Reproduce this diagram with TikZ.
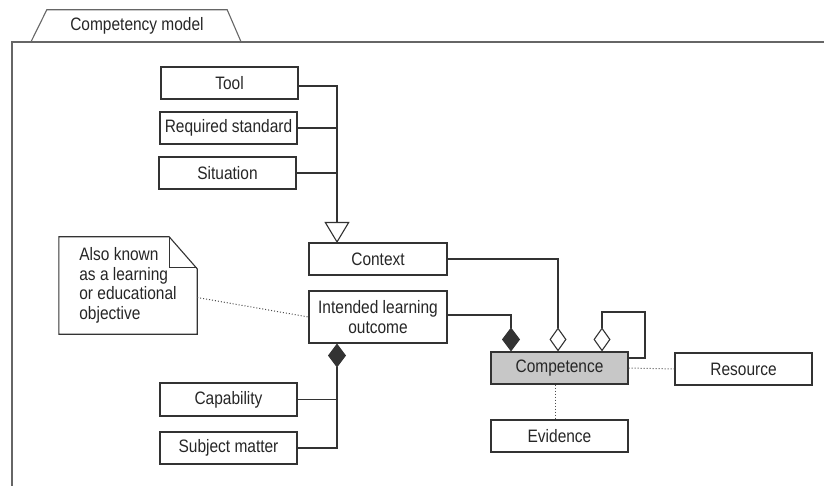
\documentclass[tikz,border=0pt]{standalone}
\usepackage{fontspec}
\setmainfont{Liberation Sans}[FakeStretch=0.86]
\usetikzlibrary{arrows.meta}

\begin{document}
\begin{tikzpicture}[x=1pt,y=-1pt,
    every node/.style={font=\fontsize{18}{19.5}\selectfont,text=black!85},
    box/.style={draw=black!80,line width=1.1pt,minimum width=137pt,minimum height=32pt,inner sep=0pt},
    link/.style={draw=black!80,line width=1.1pt},
    note link/.style={draw=black!70,line width=1pt,dotted},
    opendia/.style={-{Diamond[open,width=17pt,length=24pt,line width=1.1pt]}},
    fulldia/.style={-{Diamond[width=18pt,length=24pt]}}]
    \useasboundingbox (0,0) rectangle (824,486);
    \node[minimum width=180pt,minimum height=32pt,inner sep=0pt] (tab) at (137,26) {Competency model};
    \draw[black!60,line width=1.1pt] ([xshift=-16pt]tab.south west) -- (tab.north west) -- (tab.north east) -- ([xshift=14pt]tab.south east);
    \draw[black!60,line width=1.1pt] (824,42) -- (12,42) -- (12,486);
    \node[box] (tool) at (229.5,83) {Tool};
    \node[box] (req) at (228.5,128) {Required standard};
    \node[box] (sit) at (227.5,173) {Situation};
    \node[box,minimum width=138pt] (ctx) at (378,259) {Context};
    \node[box,minimum width=138pt,minimum height=52pt,align=center] (ilo) at (378,317) {Intended learning\\outcome};
    \node[box,minimum height=33pt] (cap) at (228.5,399.5) {Capability};
    \node[box] (subj) at (228.5,448) {Subject matter};
    \node[box,fill=black!22] (comp) at (559.5,368) {Competence};
    \node[box] (res) at (743.5,369) {Resource};
    \node[box] (evid) at (559.5,436) {Evidence};
    \node[minimum width=138pt,minimum height=97pt,inner sep=0pt,align=left] (note) at (128,285.5) {Also known\\as a learning\\or educational\\objective};
    \draw[link] (note.north west) -- ([xshift=-28pt]note.north east) -- ([yshift=-32pt]note.north east) -- (note.south east) -- (note.south west) -- cycle;
    \draw[link] ([xshift=-28pt]note.north east) -- ([xshift=-28pt,yshift=-31pt]note.north east) -- ([yshift=-31pt]note.north east);
    \coordinate (gen) at (337,243);
    \draw[link,-{Triangle[open,width=25pt,length=21pt,line width=1.1pt]}] (tool.east |- 0,86) -| (gen);
    \draw[link] (req.east) -- (req.east -| gen);
    \draw[link] (sit.east) -- (sit.east -| gen);
    \draw[link,fulldia] (subj.east) -| (ilo.south -| gen);
    \draw[link] (cap.east) -- (cap.east -| gen);
    \draw[link,opendia] (ctx.east) -| ([xshift=-1.5pt]comp.north);
    \draw[link,fulldia] ([yshift=2pt]ilo.east) -| ([xshift=-48.5pt]comp.north);
    \draw[link,{Diamond[open,width=17pt,length=24pt,line width=1.1pt]}-] ([xshift=42.5pt]comp.north) |- (645,312) |- ([yshift=10pt]comp.east);
    \draw[note link] ([yshift=-12pt]note.east) -- (ilo.west);
    \draw[note link] (comp.east) -- (res.west);
    \draw[note link] ([xshift=-4.5pt]comp.south) -- ([xshift=-4.5pt]evid.north);
\end{tikzpicture}
\end{document}
